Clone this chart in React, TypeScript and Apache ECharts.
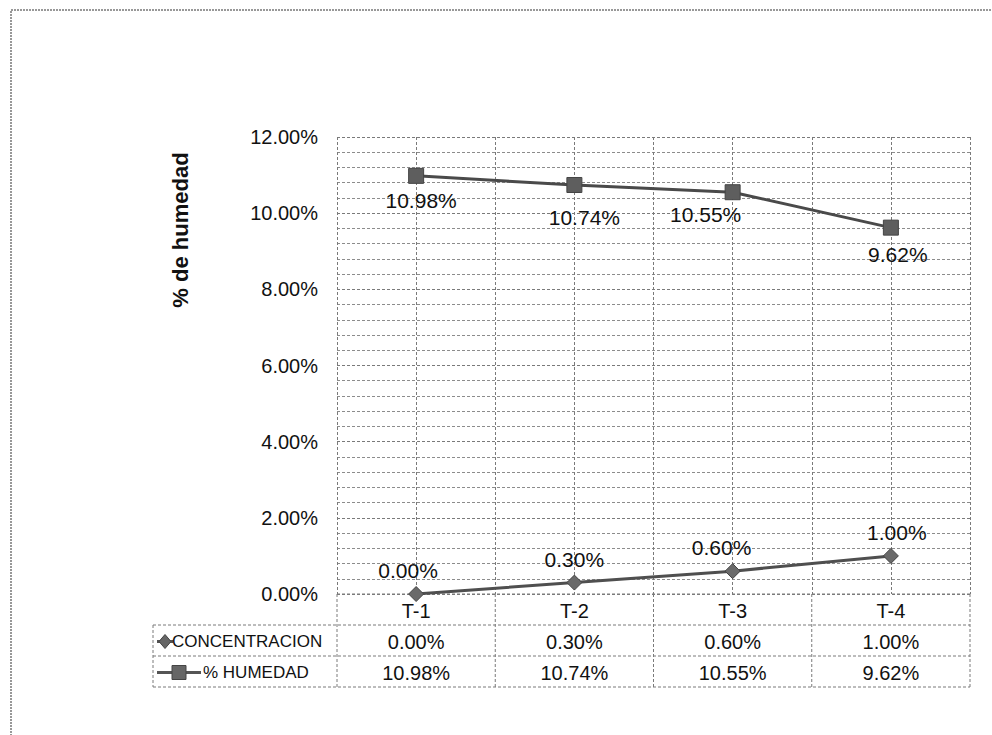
import React, { useEffect, useRef } from "react";
import * as echarts from "echarts";

const categories = ["T-1", "T-2", "T-3", "T-4"];
const concentracion = [0.0, 0.003, 0.006, 0.01];
const humedad = [0.1098, 0.1074, 0.1055, 0.0962];
const seriesNames = ["CONCENTRACION", "% HUMEDAD"];
const yTitle = "% de humedad";

const fmt = (v: number) => (v * 100).toFixed(2) + "%";

const GRID_L = 337;
const GRID_R = 970;
const GRID_T = 137;
const GRID_B = 594;
const ROW_H = 31;
const TABLE_L = 153;
const GRAY = "#7a7a7a";
const FONT = "Liberation Sans, Arial, sans-serif";

// label nudges (style only)
const concOffsets = [[-8, 0], [0, 0], [-11, 0], [6, 0]];
const humOffsets = [[5, 0], [10, 8], [-27, -2], [7, 2]];
// legend key layout per table row (style only)
const keyLayout = [
  { x1: 157, x2: 173, mx: 165, tx: 172 },
  { x1: 157, x2: 201, mx: 179, tx: 203 },
];

export default function App() {
  const ref = useRef<HTMLDivElement>(null);
  useEffect(() => {
    document.body.style.margin = "0";
    if (!ref.current) return;
    const chart = echarts.init(ref.current, null, { renderer: "svg" });
    const colW = (GRID_R - GRID_L) / categories.length;
    const dash = { stroke: GRAY, lineWidth: 1, lineDash: [3, 2] };
    const graphics: any[] = [];
    graphics.push({
      type: "rect",
      shape: { x: 11, y: 10, width: 1000, height: 800 },
      style: { fill: "none", stroke: "#777", lineWidth: 1.5, lineDash: [2, 1] },
      silent: true,
    });
    graphics.push({
      type: "text",
      x: 180,
      y: 230,
      rotation: Math.PI / 2,
      style: {
        text: yTitle,
        font: `bold 22px ${FONT}`,
        fill: "#111",
        align: "center",
        verticalAlign: "middle",
      },
    });
    const rowsY = [GRID_B, GRID_B + ROW_H, GRID_B + 2 * ROW_H, GRID_B + 3 * ROW_H];
    graphics.push({ type: "line", shape: { x1: GRID_L, y1: rowsY[0], x2: GRID_R, y2: rowsY[0] }, style: dash });
    for (let r = 1; r < 4; r++) {
      graphics.push({ type: "line", shape: { x1: TABLE_L, y1: rowsY[r], x2: GRID_R, y2: rowsY[r] }, style: dash });
    }
    graphics.push({ type: "line", shape: { x1: TABLE_L, y1: rowsY[1], x2: TABLE_L, y2: rowsY[3] }, style: dash });
    for (let c = 0; c <= categories.length; c++) {
      const x = GRID_L + c * colW;
      graphics.push({ type: "line", shape: { x1: x, y1: rowsY[0], x2: x, y2: rowsY[3] }, style: dash });
    }
    categories.forEach((cat, i) => {
      graphics.push({
        type: "text",
        x: GRID_L + (i + 0.5) * colW,
        y: rowsY[0] + ROW_H / 2 + 1,
        style: { text: cat, font: `20px ${FONT}`, fill: "#111", align: "center", verticalAlign: "middle" },
      });
    });
    const rowsData = [concentracion, humedad];
    rowsData.forEach((arr, r) => {
      const cy = rowsY[r + 1] + ROW_H / 2 + 1;
      arr.forEach((v, i) => {
        graphics.push({
          type: "text",
          x: GRID_L + (i + 0.5) * colW,
          y: cy,
          style: { text: fmt(v), font: `20px ${FONT}`, fill: "#111", align: "center", verticalAlign: "middle" },
        });
      });
      const k = keyLayout[r];
      graphics.push({
        type: "line",
        shape: { x1: k.x1, y1: cy, x2: k.x2, y2: cy },
        style: { stroke: "#555", lineWidth: 3 },
      });
      if (r === 0) {
        graphics.push({
          type: "polygon",
          shape: { points: [[k.mx, cy - 7], [k.mx + 6, cy], [k.mx, cy + 7], [k.mx - 6, cy]] },
          style: { fill: "#666", stroke: "#444", lineWidth: 1 },
        });
      } else {
        graphics.push({
          type: "rect",
          shape: { x: k.mx - 7, y: cy - 7, width: 14, height: 14 },
          style: { fill: "#666", stroke: "#444", lineWidth: 1 },
        });
      }
      graphics.push({
        type: "text",
        x: k.tx,
        y: cy,
        style: { text: seriesNames[r], font: `17px ${FONT}`, fill: "#111", align: "left", verticalAlign: "middle" },
      });
    });

    const labelBase = { show: true, fontSize: 21, color: "#111", fontFamily: FONT };

    chart.setOption({
      animation: false,
      backgroundColor: "#fff",
      grid: { left: GRID_L, right: 992 - GRID_R, top: GRID_T, bottom: 735 - GRID_B, containLabel: false },
      xAxis: [
        {
          type: "category",
          data: categories,
          boundaryGap: true,
          axisLabel: { show: false },
          axisLine: { show: false },
          axisTick: { show: false },
          splitLine: { show: false },
        },
        {
          type: "value",
          min: -0.5,
          max: 3.5,
          interval: 0.5,
          position: "bottom",
          axisLabel: { show: false },
          axisLine: { show: false },
          axisTick: { show: false },
          splitLine: { show: true, lineStyle: { color: GRAY, type: [3, 2], width: 1 } },
        },
      ],
      yAxis: {
        type: "value",
        min: 0,
        max: 0.12,
        interval: 0.02,
        axisLabel: {
          formatter: (v: number) => fmt(v),
          fontSize: 20,
          color: "#111",
          fontFamily: FONT,
          margin: 19,
        },
        axisLine: { show: false },
        axisTick: { show: false },
        splitLine: { show: true, lineStyle: { color: GRAY, type: [3, 2], width: 1 } },
        minorTick: { show: false, splitNumber: 5 },
        minorSplitLine: { show: true, lineStyle: { color: "#8c8c8c", type: [3, 2], width: 1 } },
      },
      series: [
        {
          name: seriesNames[0],
          type: "line",
          xAxisIndex: 0,
          data: concentracion.map((v, i) => ({ value: v, label: { offset: concOffsets[i] } })),
          symbol: "diamond",
          symbolSize: 15,
          lineStyle: { color: "#4f4f4f", width: 3 },
          itemStyle: { color: "#6a6a6a", borderColor: "#444", borderWidth: 1 },
          label: { ...labelBase, position: "top", distance: 5, formatter: (p: any) => fmt(p.value) },
        },
        {
          name: seriesNames[1],
          type: "line",
          xAxisIndex: 0,
          data: humedad.map((v, i) => ({ value: v, label: { offset: humOffsets[i] } })),
          symbol: "rect",
          symbolSize: 15,
          lineStyle: { color: "#4a4a4a", width: 3 },
          itemStyle: { color: "#5e5e5e", borderColor: "#444", borderWidth: 1 },
          label: { ...labelBase, position: "bottom", distance: 6, formatter: (p: any) => fmt(p.value) },
        },
      ],
      graphic: graphics,
    });
    return () => chart.dispose();
  }, []);
  return <div ref={ref} style={{ width: 992, height: 735 }} />;
}
